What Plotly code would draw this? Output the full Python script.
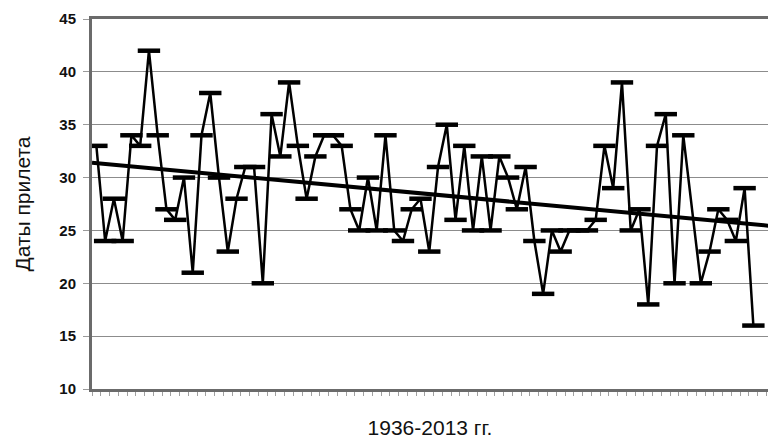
import numpy as np
import plotly.graph_objects as go

# Arrival dates (day count) per year, 1936 onward; None marks a year without data
arrival_days = [
    33, 24, 28, 24, 34, 33, 42, 34, 27, 26, 30, 21,
    34, 38, 30, 23, 28, 31, 31, 20, 36, 32, 39, 33,
    28, 32, 34, 34, 33, 27, 25, 30, 25, 34, 25, 24,
    27, 28, 23, 31, 35, 26, 33, 25, 32, 25, 32, 30,
    27, 31, 24, 19, 25, 23, 25, 25, 25, 26, 33, 29,
    39, 25, 27, 18, 33, 36, 20, 34, None, 20, 23, 27,
    26, 24, 29, 16,
]
first_year = 1936
years = [first_year + i for i in range(len(arrival_days))]

y_ticks = [10, 15, 20, 25, 30, 35, 40, 45]
y_title = "Даты прилета"
x_title = "1936-2013 гг."

# Linear trend fitted to the observed years
known = [(x, v) for x, v in zip(years, arrival_days) if v is not None]
kx = np.array([p[0] for p in known], dtype=float)
ky = np.array([p[1] for p in known], dtype=float)
slope, intercept = np.polyfit(kx, ky, 1)
trend_x = [first_year - 0.5, 2013.5]
trend_y = [slope * x + intercept for x in trend_x]

font_family = "Arial, Liberation Sans, sans-serif"
axis_grey = "#6b6b6b"

fig = go.Figure()

fig.add_trace(go.Scatter(
    x=years, y=arrival_days,
    mode="lines+markers",
    connectgaps=True,
    line=dict(color="#000000", width=2.5),
    marker=dict(symbol="line-ew", size=16,
                line=dict(color="#000000", width=4.5)),
    showlegend=False, hoverinfo="skip",
))

fig.add_trace(go.Scatter(
    x=trend_x, y=trend_y,
    mode="lines",
    line=dict(color="#000000", width=4),
    showlegend=False, hoverinfo="skip",
))

fig.update_layout(
    width=768, height=441,
    margin=dict(l=92, r=0, t=19, b=52),
    paper_bgcolor="#ffffff", plot_bgcolor="#ffffff",
    font=dict(family=font_family, color="#111111"),
)

fig.update_xaxes(
    range=[first_year - 0.5, first_year - 0.5 + 77.17],
    showline=True, linecolor=axis_grey, linewidth=3, mirror=True,
    showgrid=False, zeroline=False,
    ticks="outside", ticklen=4, tickwidth=1, tickcolor="#a0a0a0",
    tick0=first_year - 0.5, dtick=1,
    showticklabels=False,
    title=dict(text=x_title, font=dict(size=21, color="#111111"), standoff=26),
)

fig.update_yaxes(
    range=[10, 45],
    tickvals=y_ticks,
    showline=True, linecolor=axis_grey, linewidth=3,
    showgrid=True, gridcolor="#8c8c8c", gridwidth=1,
    zeroline=False,
    ticks="outside", ticklen=6, tickwidth=1, tickcolor="#9a9a9a",
    tickfont=dict(family=font_family, size=15, color="#111111", weight="bold"),
    ticklabelstandoff=4,
    title=dict(text=y_title, font=dict(size=21, color="#111111"), standoff=23),
)

fig.write_html("out.html")
